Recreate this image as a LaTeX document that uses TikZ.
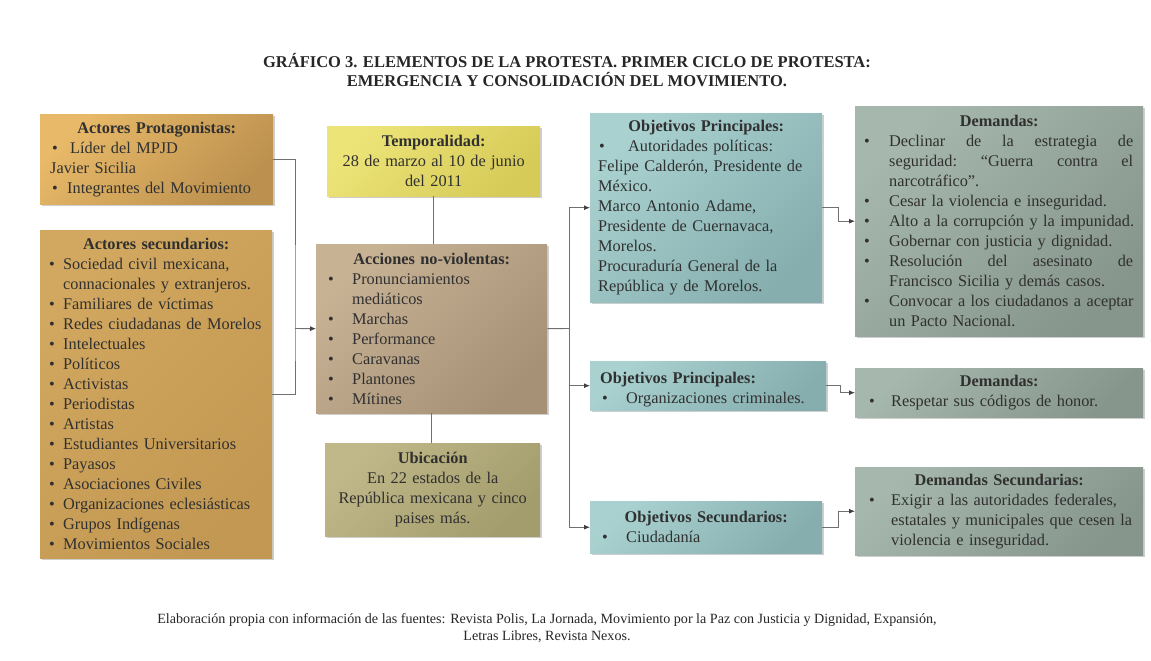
\documentclass[tikz,border=0pt]{standalone}
\usepackage{fontspec}
\setmainfont{Liberation Serif}
\usetikzlibrary{shadows,arrows.meta,calc}
\definecolor{txt}{HTML}{303030}
\definecolor{lgray}{HTML}{707070}
\definecolor{protA}{HTML}{E8B968}
\definecolor{protB}{HTML}{BC914F}
\definecolor{secA}{HTML}{D2A860}
\definecolor{secB}{HTML}{C29852}
\definecolor{tempA}{HTML}{EDE478}
\definecolor{tempB}{HTML}{D6CB58}
\definecolor{accA}{HTML}{C8B294}
\definecolor{accB}{HTML}{A69177}
\definecolor{ubiA}{HTML}{C0B888}
\definecolor{ubiB}{HTML}{A39C6C}
\definecolor{opA}{HTML}{A9D1D0}
\definecolor{opB}{HTML}{86AEAE}
\definecolor{demA}{HTML}{A6B7AD}
\definecolor{demB}{HTML}{86968D}
\hyphenpenalty=10000
\exhyphenpenalty=10000
\tolerance=9999
\newcommand\ttl[1]{{\centering\bfseries #1\par}}
\newcommand\itm[3]{\par\noindent\hangindent=#2\hangafter=1\hbox to #2{\hspace{#1}\textbullet\hfil}#3\par}
\newcommand\pl[1]{\par\noindent #1\par}
\newcommand\jl[1]{\hbox to 244pt{#1}}
\tikzset{
  box/.style={anchor=north west, inner xsep=0pt, inner ysep=0pt, text=txt,
    font=\fontsize{16.3}{20}\selectfont,
    drop shadow={opacity=0.35, shadow xshift=1.5pt, shadow yshift=-2pt, fill=black!55}},
  grad/.style 2 args={top color=#1, bottom color=#2, shading angle=45},
  conn/.style={draw=lgray, line width=0.9pt},
  arr/.style={conn, -{Latex[length=6pt,width=5pt,color=black!75]}},
}
\begin{document}
\begin{tikzpicture}[x=1pt,y=-1pt]
\path[use as bounding box, fill=white] (0,0) rectangle (1151,661);

\node[font=\fontsize{16.5}{19}\selectfont\bfseries, text=black!85, align=center] (title) at (567,70)
  {GRÁFICO 3. ELEMENTOS DE LA PROTESTA. PRIMER CICLO DE PROTESTA:\\EMERGENCIA Y CONSOLIDACIÓN DEL MOVIMIENTO.};

% left column
\node[box, grad={protA}{protB}, minimum width=233pt, minimum height=90pt, text width=213pt] (prot) at (40,114)
  {\ttl{Actores Protagonistas:}\itm{2pt}{20pt}{Líder del MPJD}\pl{Javier Sicilia}\itm{2pt}{17pt}{Integrantes del Movimiento}};
\node[box, grad={secA}{secB}, minimum width=232pt, minimum height=328pt, text width=216pt] (sec) at (40,230)
  {\raggedright\ttl{Actores secundarios:}\itm{1pt}{15pt}{Sociedad civil mexicana,\newline connacionales y extranjeros.}\itm{1pt}{15pt}{Familiares de víctimas}\itm{1pt}{15pt}{Redes ciudadanas de Morelos}\itm{1pt}{15pt}{Intelectuales}\itm{1pt}{15pt}{Políticos}\itm{1pt}{15pt}{Activistas}\itm{1pt}{15pt}{Periodistas}\itm{1pt}{15pt}{Artistas}\itm{1pt}{15pt}{Estudiantes Universitarios}\itm{1pt}{15pt}{Payasos}\itm{1pt}{15pt}{Asociaciones Civiles}\itm{1pt}{15pt}{Organizaciones eclesiásticas}\itm{1pt}{15pt}{Grupos Indígenas}\itm{1pt}{15pt}{Movimientos Sociales}};

% middle column
\node[box, grad={tempA}{tempB}, minimum width=213pt, minimum height=70pt, text width=205pt, align=center] (temp) at (327,126)
  {\textbf{Temporalidad:}\\28 de marzo al 10 de junio\\del 2011};
\node[box, grad={accA}{accB}, minimum width=231pt, minimum height=169pt, text width=211pt] (acc) at (316,244)
  {\raggedright\ttl{Acciones no-violentas:}\itm{2pt}{26pt}{Pronunciamientos\newline mediáticos}\itm{2pt}{26pt}{Marchas}\itm{2pt}{26pt}{Performance}\itm{2pt}{26pt}{Caravanas}\itm{2pt}{26pt}{Plantones}\itm{2pt}{26pt}{Mítines}};
\node[box, grad={ubiA}{ubiB}, minimum width=215pt, minimum height=93pt, text width=205pt, align=center] (ubi) at (325,443)
  {\textbf{Ubicación}\\En 22 estados de la\\República mexicana y cinco\\paises más.};

% objectives
\node[box, grad={opA}{opB}, minimum width=232pt, minimum height=189pt, text width=216pt, align=left] (op1) at (590,113)
  {\ttl{Objetivos Principales:}\itm{1pt}{30pt}{Autoridades políticas:}\pl{Felipe Calderón, Presidente de}\pl{México.}\pl{Marco Antonio Adame,}\pl{Presidente de Cuernavaca,}\pl{Morelos.}\pl{Procuraduría General de la}\pl{República y de Morelos.}};
\node[box, grad={opA}{opB}, minimum width=236pt, minimum height=49pt, text width=220pt, align=left] (op2) at (590,361)
  {\pl{\hspace{2pt}\textbf{Objetivos Principales:}}\itm{4pt}{28pt}{Organizaciones criminales.}};
\node[box, grad={opA}{opB}, minimum width=232pt, minimum height=52pt, text width=216pt, align=left] (os) at (590,501)
  {\ttl{Objetivos Secundarios:}\itm{4pt}{28pt}{Ciudadanía}};

% demands
\node[box, grad={demA}{demB}, minimum width=288pt, minimum height=230pt, text width=274pt] (dem1) at (855,106)
  {\raggedright\ttl{Demandas:}\itm{2pt}{27pt}{\jl{Declinar\hfill de\hfill la\hfill estrategia\hfill de}\newline\jl{seguridad:\hfill “Guerra\hfill contra\hfill el}\newline narcotráfico”.}\itm{2pt}{27pt}{Cesar la violencia e inseguridad.}\itm{2pt}{27pt}{Alto a la corrupción y la impunidad.}\itm{2pt}{27pt}{Gobernar con justicia y dignidad.}\itm{2pt}{27pt}{\jl{Resolución\hfill del\hfill asesinato\hfill de}\newline Francisco Sicilia y demás casos.}\itm{2pt}{27pt}{Convocar a los ciudadanos a aceptar\newline un Pacto Nacional.}};
\node[box, grad={demA}{demB}, minimum width=288pt, minimum height=49pt, text width=272pt, align=left] (dem2) at (855,368)
  {\ttl{Demandas:}\itm{6pt}{28pt}{Respetar sus códigos de honor.}};
\node[box, grad={demA}{demB}, minimum width=288pt, minimum height=88pt, text width=272pt] (ds) at (855,467)
  {\raggedright\ttl{Demandas Secundarias:}\itm{6pt}{28pt}{Exigir a las autoridades federales,\newline estatales y municipales que cesen la\newline violencia e inseguridad.}};

% connectors
\coordinate (j1) at (295,328.5);
\coordinate (j2) at (569,328.5);
\draw[conn] (prot.east) -| (j1) |- (sec.east);
\draw[arr] (j1) -- (acc.west);
\draw[conn] (temp.south) -- (temp.south |- acc.north);
\draw[conn] (acc.south) -- (acc.south |- ubi.north);
\draw[conn] (acc.east) -- (j2);
\draw[arr] (j2) |- (op1.west);
\draw[arr] (j2) |- (op2.west);
\draw[arr] (j2) |- (os.west);
\draw[arr] (op1.east) -| ($(op1.east)!0.5!(dem1.west)$) |- (dem1.west);
\draw[arr] (op2.east) -| ($(op2.east)!0.5!(dem2.west)$) |- (dem2.west);
\draw[arr] (os.east) -| ($(os.east)!0.5!(ds.west)$) |- (ds.west);

\node[font=\fontsize{14.1}{17}\selectfont, text=black!85, align=center] (cap) at (547,628)
  {Elaboración propia con información de las fuentes: Revista Polis, La Jornada, Movimiento por la Paz con Justicia y Dignidad, Expansión,\\Letras Libres, Revista Nexos.};
\end{tikzpicture}
\end{document}
